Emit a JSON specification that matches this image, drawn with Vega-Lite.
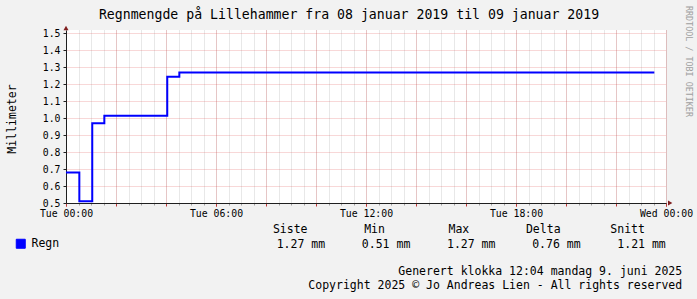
{
  "$schema": "https://vega.github.io/schema/vega-lite/v6.json",
  "width": 600,
  "height": 173,
  "autosize": {"type": "none"},
  "padding": {"left": 66, "top": 30, "right": 31, "bottom": 96},
  "background": "#f2f2f2",
  "config": {
    "view": {"stroke": null, "fill": "#ffffff"},
    "font": "DejaVu Sans Mono",
    "axis": {"labelFont": "DejaVu Sans Mono", "titleFont": "DejaVu Sans Mono", "titleFontWeight": "normal"}
  },
  "datasets": {
    "regn": [
      {"t": "2019-01-08T00:00:00Z", "mm": 0.68, "serie": "Regn"},
      {"t": "2019-01-08T00:32:00Z", "mm": 0.51, "serie": "Regn"},
      {"t": "2019-01-08T01:03:00Z", "mm": 0.97, "serie": "Regn"},
      {"t": "2019-01-08T01:32:00Z", "mm": 1.015, "serie": "Regn"},
      {"t": "2019-01-08T04:03:00Z", "mm": 1.245, "serie": "Regn"},
      {"t": "2019-01-08T04:32:00Z", "mm": 1.27, "serie": "Regn"},
      {"t": "2019-01-08T23:32:00Z", "mm": 1.27, "serie": "Regn"}
    ],
    "stats": [
      {"stat": "Siste", "kind": "header", "txt": "Siste"},
      {"stat": "Min", "kind": "header", "txt": "Min"},
      {"stat": "Max", "kind": "header", "txt": "Max"},
      {"stat": "Delta", "kind": "header", "txt": "Delta"},
      {"stat": "Snitt", "kind": "header", "txt": "Snitt"},
      {"stat": "Siste", "kind": "value", "txt": "1.27 mm"},
      {"stat": "Min", "kind": "value", "txt": "0.51 mm"},
      {"stat": "Max", "kind": "value", "txt": "1.27 mm"},
      {"stat": "Delta", "kind": "value", "txt": "0.76 mm"},
      {"stat": "Snitt", "kind": "value", "txt": "1.21 mm"}
    ]
  },
  "resolve": {"scale": {"x": "independent", "y": "independent"}, "axis": {"x": "independent", "y": "independent"}},
  "layer": [
    {
      "data": {"name": "regn"},
      "mark": {"type": "line", "strokeOpacity": 0},
      "encoding": {
        "x": {"field": "t", "type": "temporal",
          "scale": {"type": "utc", "domain": [1546905600000, 1546992000000], "nice": false},
          "axis": {"orient": "bottom", "grid": true, "gridColor": "#8f8f8f", "gridOpacity": 0.4, "gridDash": [1, 1], "gridWidth": 1,
            "values": [1546905600000, 1546907400000, 1546909200000, 1546911000000, 1546912800000, 1546914600000, 1546916400000, 1546918200000, 1546920000000, 1546921800000, 1546923600000, 1546925400000, 1546927200000, 1546929000000, 1546930800000, 1546932600000, 1546934400000, 1546936200000, 1546938000000, 1546939800000, 1546941600000, 1546943400000, 1546945200000, 1546947000000, 1546948800000, 1546950600000, 1546952400000, 1546954200000, 1546956000000, 1546957800000, 1546959600000, 1546961400000, 1546963200000, 1546965000000, 1546966800000, 1546968600000, 1546970400000, 1546972200000, 1546974000000, 1546975800000, 1546977600000, 1546979400000, 1546981200000, 1546983000000, 1546984800000, 1546986600000, 1546988400000, 1546990200000, 1546992000000],
            "labels": false, "domain": false,
            "ticks": true, "tickColor": "#a0a0a0", "tickSize": 2, "title": null}},
        "y": {"field": "mm", "type": "quantitative",
          "scale": {"domain": [0.5, 1.52], "nice": false, "zero": false}, "axis": null}
      }
    },
    {
      "data": {"name": "regn"},
      "mark": {"type": "line", "strokeOpacity": 0},
      "encoding": {
        "x": {"field": "t", "type": "temporal",
          "scale": {"type": "utc", "domain": [1546905600000, 1546992000000], "nice": false},
          "axis": {"orient": "bottom", "grid": true, "gridColor": "#de4f4f", "gridOpacity": 0.45, "gridDash": [1, 1], "gridWidth": 1,
            "values": [1546905600000, 1546912800000, 1546920000000, 1546927200000, 1546934400000, 1546941600000, 1546948800000, 1546956000000, 1546963200000, 1546970400000, 1546977600000, 1546984800000, 1546992000000],
            "labels": false, "domain": false,
            "ticks": true, "tickColor": "#c03838", "tickSize": 3, "title": null}},
        "y": {"field": "mm", "type": "quantitative",
          "scale": {"domain": [0.5, 1.52], "nice": false, "zero": false},
          "axis": {"orient": "left", "values": [0.5, 0.6, 0.7, 0.8, 0.9, 1.0, 1.1, 1.2, 1.3, 1.4, 1.5],
            "grid": true, "gridColor": "#de4f4f", "gridOpacity": 0.45, "gridDash": [1, 1], "gridWidth": 1,
            "format": ".1f", "labelFontSize": 9.8, "labelColor": "#000000", "labelPadding": 3,
            "tickSize": 3, "tickColor": "#1f1f1f", "domain": true, "domainColor": "#1f1f1f",
            "title": "Millimeter", "titleFontSize": 11.5, "titleColor": "#000000",
            "titleX": -51, "titleY": 88.5, "titleAngle": 270, "titleAlign": "center", "titleBaseline": "alphabetic"}}
      }
    },
    {
      "data": {"name": "regn"},
      "mark": {"type": "line", "interpolate": "step-after", "strokeWidth": 2, "strokeJoin": "miter", "strokeCap": "butt"},
      "encoding": {
        "x": {"field": "t", "type": "temporal",
          "scale": {"type": "utc", "domain": [1546905600000, 1546992000000], "nice": false},
          "axis": {"orient": "bottom", "values": [1546905600000, 1546927200000, 1546948800000, 1546970400000, 1546992000000],
            "labelExpr": "utcFormat(datum.value, '%a %H:%M')", "labelFontSize": 9.8, "labelColor": "#000000",
            "labelPadding": 2, "labelFlush": false, "labelOverlap": false, "grid": false,
            "ticks": true, "tickSize": 3, "tickColor": "#c03838", "domain": true, "domainColor": "#1f1f1f",
            "title": ["Generert klokka 12:04 mandag 9. juni 2025", "Copyright 2025 © Jo Andreas Lien - All rights reserved"],
            "titleFontSize": 11.5, "titleColor": "#000000", "titleX": 615.7, "titleY": 71.3,
            "titleAlign": "right", "titleBaseline": "alphabetic", "titleLineHeight": 14.7}},
        "y": {"field": "mm", "type": "quantitative",
          "scale": {"domain": [0.5, 1.52], "nice": false, "zero": false},
          "axis": {"orient": "right", "labels": false, "ticks": false, "domain": false, "grid": false,
            "title": "RRDTOOL / TOBI OETIKER", "titleFontSize": 8.4, "titleColor": "#a0a0a0",
            "titleAngle": 90, "titleX": 19.5, "titleY": 31, "titleAlign": "center", "titleBaseline": "alphabetic"}},
        "color": {"field": "serie", "type": "nominal",
          "scale": {"domain": ["Regn"], "range": ["#0000ff"]},
          "legend": {"orient": "none", "legendX": -51, "legendY": 208, "title": null,
            "symbolType": "square", "symbolSize": 81, "labelFont": "DejaVu Sans Mono", "labelFontSize": 11.5,
            "labelColor": "#000000", "labelOffset": 5, "padding": 0,
            "symbolFillColor": "#0000ff", "symbolStrokeColor": "#000000", "symbolStrokeWidth": 1}}
      }
    },
    {
      "data": {"name": "regn"},
      "mark": {"type": "line", "strokeOpacity": 0},
      "encoding": {
        "x": {"field": "t", "type": "temporal",
          "scale": {"type": "utc", "domain": [1546905600000, 1546992000000], "nice": false},
          "axis": {"orient": "top", "labels": false, "ticks": false, "domain": false, "grid": false,
            "title": "Regnmengde på Lillehammer fra 08 januar 2019 til 09 januar 2019",
            "titleFontSize": 13.2, "titleColor": "#000000", "titleX": 282.5, "titleY": -11.7,
            "titleAlign": "center", "titleBaseline": "alphabetic"}},
        "y": {"field": "mm", "type": "quantitative",
          "scale": {"domain": [0.5, 1.52], "nice": false, "zero": false}, "axis": null}
      }
    },
    {
      "data": {"values": [{"arrow": "x"}]},
      "mark": {"type": "point", "shape": "triangle-right", "filled": true, "size": 25, "color": "#801f1f", "opacity": 1},
      "encoding": {
        "x": {"datum": 1546992600000, "type": "temporal",
          "scale": {"type": "utc", "domain": [1546905600000, 1546992000000], "nice": false}, "axis": null},
        "y": {"datum": 0.5, "type": "quantitative",
          "scale": {"domain": [0.5, 1.52], "nice": false, "zero": false}, "axis": null}
      }
    },
    {
      "data": {"values": [{"arrow": "y"}]},
      "mark": {"type": "point", "shape": "triangle-up", "filled": true, "size": 25, "color": "#801f1f", "opacity": 1},
      "encoding": {
        "x": {"datum": 1546905600000, "type": "temporal",
          "scale": {"type": "utc", "domain": [1546905600000, 1546992000000], "nice": false}, "axis": null},
        "y": {"datum": 1.532, "type": "quantitative",
          "scale": {"domain": [0.5, 1.52], "nice": false, "zero": false}, "axis": null}
      }
    },
    {
      "data": {"name": "stats"},
      "transform": [{"filter": "datum.kind == 'header'"}],
      "mark": {"type": "text", "align": "center", "baseline": "alphabetic", "font": "DejaVu Sans Mono", "fontSize": 11.5, "color": "#000000"},
      "encoding": {
        "x": {"field": "stat", "type": "nominal",
          "scale": {"type": "point", "domain": ["Siste", "Min", "Max", "Delta", "Snitt"], "range": [224.2, 561.6], "padding": 0}, "axis": null},
        "y": {"field": "kind", "type": "nominal",
          "scale": {"type": "point", "domain": ["header", "value"], "range": [203.3, 217.7], "padding": 0}, "axis": null},
        "text": {"field": "txt"}
      }
    },
    {
      "data": {"name": "stats"},
      "transform": [{"filter": "datum.kind == 'value'"}],
      "mark": {"type": "text", "align": "left", "baseline": "alphabetic", "font": "DejaVu Sans Mono", "fontSize": 11.5, "color": "#000000"},
      "encoding": {
        "x": {"field": "stat", "type": "nominal",
          "scale": {"type": "point", "domain": ["Siste", "Min", "Max", "Delta", "Snitt"], "range": [210.7, 551.3], "padding": 0}, "axis": null},
        "y": {"field": "kind", "type": "nominal",
          "scale": {"type": "point", "domain": ["header", "value"], "range": [203.3, 217.7], "padding": 0}, "axis": null},
        "text": {"field": "txt"}
      }
    }
  ]
}
